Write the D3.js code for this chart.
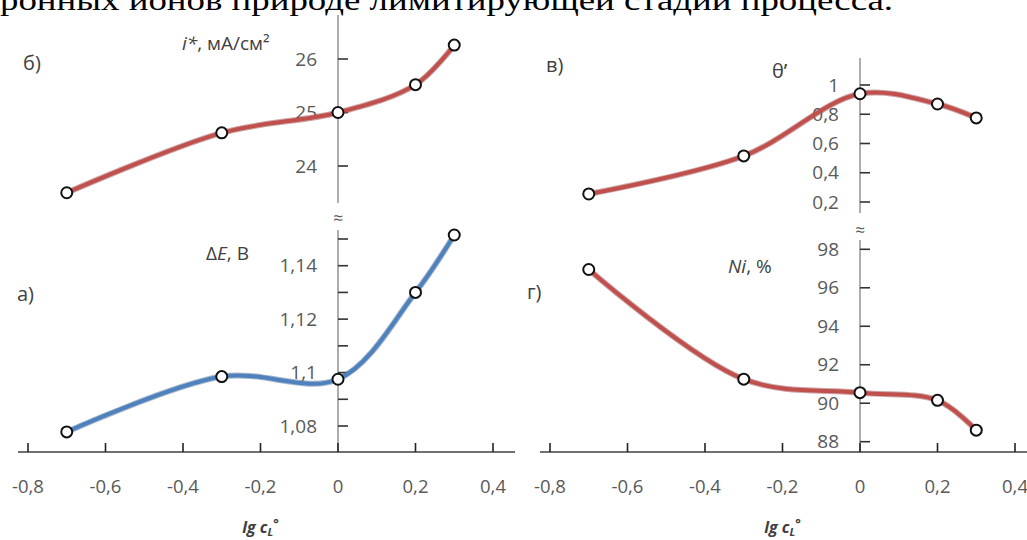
<!DOCTYPE html>
<html>
<head>
<meta charset="utf-8">
<script src="https://cdn.jsdelivr.net/npm/d3@7"></script>
<style>
    body { margin: 0; background: #fff; }
    svg { display: block; font-family: "Open Sans", "Noto Sans", sans-serif; }
</style>
</head>
<body>
<svg id="chart" width="1027" height="540"></svg>
<script>
/***************************************************************
    Data
****************************************************************/
const lgC = [-0.7, -0.3, 0, 0.2, 0.3];
const currentDensity = [23.5, 24.62, 25.0, 25.52, 26.26];   // б) i*, мА/см2
const deltaE = [1.0778, 1.0985, 1.0975, 1.13, 1.1515];       // а) ΔE, В
const theta = [0.255, 0.515, 0.94, 0.87, 0.775];              // в) θ'
const nickel = [96.95, 91.25, 90.55, 90.15, 88.6];            // г) Ni, %

const xTicks = [-0.8, -0.6, -0.4, -0.2, 0, 0.2, 0.4];
const ticksA = [1.08, 1.09, 1.1, 1.11, 1.12, 1.13, 1.14, 1.15];
const labelsA = [1.08, 1.1, 1.12, 1.14];
const ticksB = [24, 25, 26];
const ticksV = [0.2, 0.4, 0.6, 0.8, 1];
const ticksG = [88, 90, 92, 94, 96, 98];

/***************************************************************
    Setup
****************************************************************/
const locale = d3.formatLocale({ decimal: ",", thousands: " ", grouping: [3], currency: ["", ""], minus: "-" });
const fmt = locale.format("~g");

const svg = d3.select("#chart");
const gray = "#595959";
const red = "#c0504d";
const blue = "#4f81bd";

const xLeft = d3.scaleLinear().domain([-0.8, 0.4]).range([28, 493]);
const xRight = d3.scaleLinear().domain([-0.8, 0.4]).range([550, 1015]);

// caption from the page above, cut off by the crop
svg.append("text")
    .attr("x", 0).attr("y", 10)
    .attr("textLength", 893)
    .attr("lengthAdjust", "spacingAndGlyphs")
    .style("font-family", "'Liberation Serif', serif")
    .style("font-size", "30px")
    .attr("fill", "#000")
    .text("ронных ионов природе лимитирующей стадии процесса.");

/***************************************************************
    Panels
****************************************************************/
const panels = [
    { x: xLeft, values: currentDensity, domain: [24, 26], range: [166, 59], ticks: ticksB, labels: ticksB, axisTop: 15, axisBottom: 203, color: red },
    { x: xLeft, values: deltaE, domain: [1.08, 1.15], range: [426, 239], ticks: ticksA, labels: labelsA, axisTop: 230, axisBottom: 452, color: blue },
    { x: xRight, values: theta, domain: [0.2, 1], range: [202, 85], ticks: ticksV, labels: ticksV, axisTop: 58, axisBottom: 213, color: red },
    { x: xRight, values: nickel, domain: [88, 98], range: [441.7, 249.3], ticks: ticksG, labels: ticksG, axisTop: 240, axisBottom: 452, color: red }
];

panels.forEach(p => drawPanel(p));

function drawPanel(p) {
    const y = d3.scaleLinear().domain(p.domain).range(p.range);
    const x0 = p.x(0);
    const g = svg.append("g");

    g.append("line")
        .attr("x1", x0).attr("x2", x0)
        .attr("y1", p.axisTop).attr("y2", p.axisBottom)
        .attr("stroke", "#8c8c8c").attr("stroke-width", 1.4);

    g.selectAll(".ytick").data(p.ticks).enter().append("line")
        .attr("x1", x0).attr("x2", x0 + 10)
        .attr("y1", d => y(d)).attr("y2", d => y(d))
        .attr("stroke", "#333").attr("stroke-width", 1.6);

    g.selectAll(".ylab").data(p.labels).enter().append("text")
        .attr("x", x0 - 21).attr("y", d => y(d))
        .attr("text-anchor", "end").attr("dy", "0.35em")
        .attr("fill", gray).style("font-size", "19px")
        .text(d => fmt(d));

    const line = d3.line()
        .x((d, i) => p.x(lgC[i]))
        .y(d => y(d))
        .curve(d3.curveCatmullRom.alpha(0.5));

    g.append("path").datum(p.values)
        .attr("d", line).attr("fill", "none")
        .attr("stroke", d3.color(p.color).darker(0.8)).attr("stroke-opacity", 0.45)
        .attr("stroke-width", 6);
    g.append("path").datum(p.values)
        .attr("d", line).attr("fill", "none")
        .attr("stroke", p.color).attr("stroke-width", 4);

    g.selectAll("circle").data(p.values).enter().append("circle")
        .attr("cx", (d, i) => p.x(lgC[i])).attr("cy", d => y(d))
        .attr("r", 5.5)
        .attr("fill", "#fff").attr("stroke", "#111").attr("stroke-width", 2);
}

// x axes
[[xLeft, 18, 515], [xRight, 540, 1027]].forEach(([x, from, to]) => {
    const g = svg.append("g");
    g.append("line").attr("x1", from).attr("x2", to).attr("y1", 452).attr("y2", 452)
        .attr("stroke", "#404040").attr("stroke-width", 1.5);
    g.selectAll(".xt").data(xTicks).enter().append("line")
        .attr("x1", d => x(d)).attr("x2", d => x(d))
        .attr("y1", 452).attr("y2", 443)
        .attr("stroke", "#222").attr("stroke-width", 1.6);
    g.selectAll(".xl").data(xTicks).enter().append("text")
        .attr("x", d => x(d)).attr("y", 487)
        .attr("text-anchor", "middle").attr("dy", "0.35em")
        .attr("fill", gray).style("font-size", "18.5px")
        .text(d => fmt(d));
    const t = g.append("text")
        .attr("x", x(-0.2)).attr("y", 533)
        .attr("text-anchor", "middle")
        .attr("fill", "#404040")
        .style("font-size", "16px").style("font-weight", "bold").style("font-style", "italic");
    t.append("tspan").text("lg c");
    t.append("tspan").attr("dy", 3).style("font-size", "11px").text("L");
    t.append("tspan").attr("dy", -8).style("font-size", "13px").text("°");
});

// axis breaks
[[338, 218], [860, 230]].forEach(([x, y]) => {
    svg.append("text").attr("x", x).attr("y", y)
        .attr("text-anchor", "middle").attr("dy", "0.35em")
        .attr("fill", gray).style("font-size", "17px").text("≈");
});

/***************************************************************
    Labels
****************************************************************/
function label(x, y, parts, size) {
    const t = svg.append("text").attr("x", x).attr("y", y)
        .attr("fill", "#404040").style("font-size", size + "px");
    parts.forEach(([s, italic]) => {
        t.append("tspan").style("font-style", italic ? "italic" : "normal").text(s);
    });
}

label(23, 70, [["б)"]], 20);
label(17, 301, [["а)"]], 20);
label(546, 72, [["в)"]], 20);
label(527, 299, [["г)"]], 20);

label(182, 50, [["i*", true], [", мА/см²"]], 19);
label(206, 260, [["Δ"], ["E", true], [", В"]], 19);
label(772, 78, [["θ"], ["ʹ"]], 20);
label(728, 273, [["Ni", true], [", %"]], 19);
</script>
</body>
</html>
